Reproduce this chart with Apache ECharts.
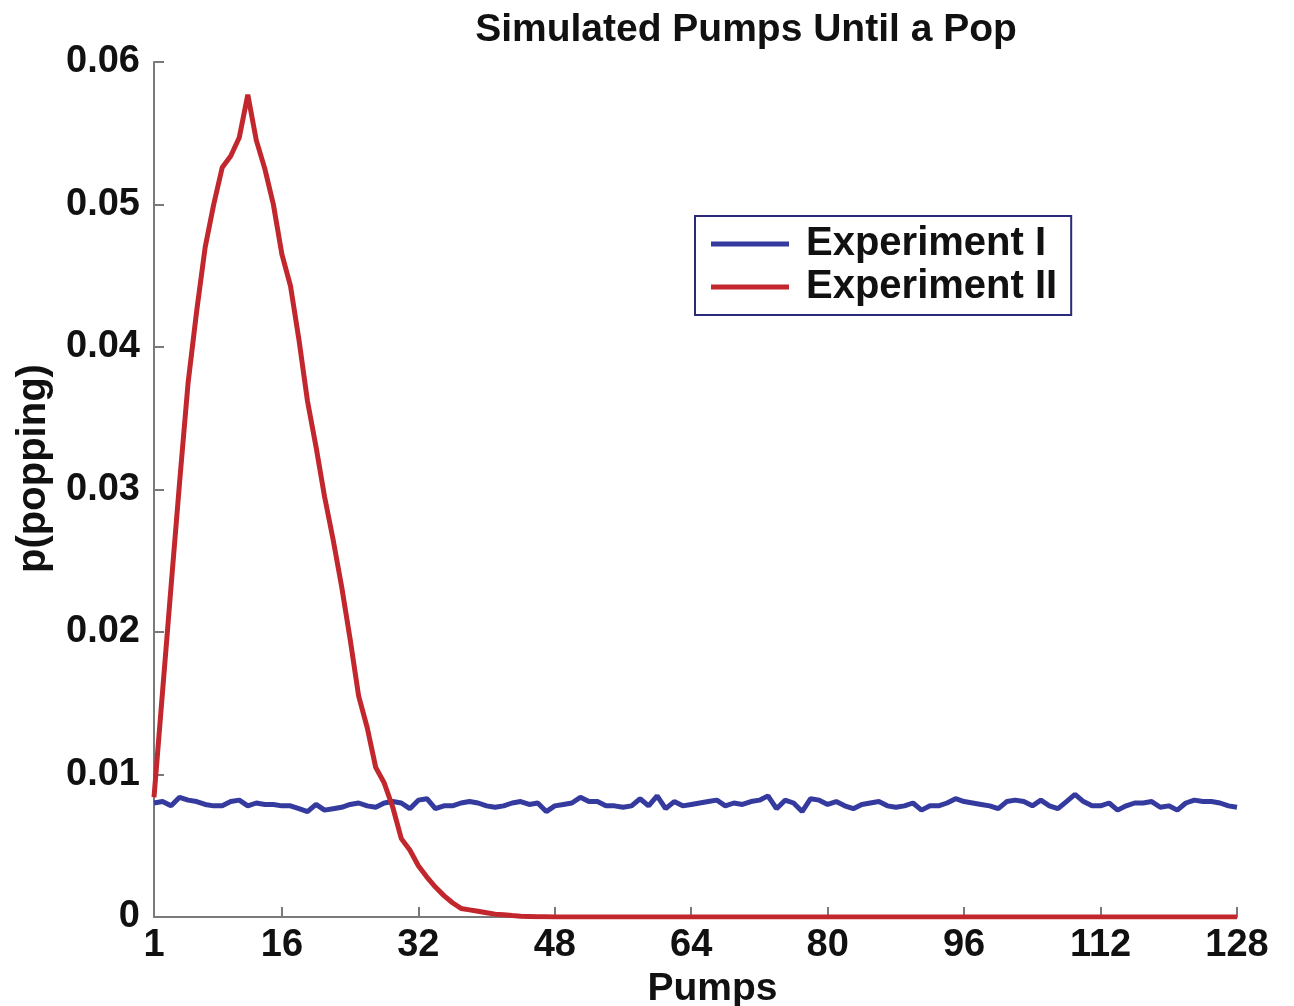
<!DOCTYPE html>
<html>
<head>
<meta charset="utf-8">
<script src="https://cdn.jsdelivr.net/npm/echarts@6/dist/echarts.min.js"></script>
<style>
  html, body { margin: 0; padding: 0; background: #fff; }
  #chart { width: 1294px; height: 1006px; }
</style>
</head>
<body>
<div id="chart"></div>
<script>
// pump index 1..128, ticks on x
const xTicks = [1, 16, 32, 48, 64, 80, 96, 112, 128];

// Experiment I - flat noisy line
const expOne = [
  0.0080, 0.0081, 0.0078, 0.0084, 0.0082, 0.0081, 0.0079, 0.0078, 0.0078, 0.0081, 0.0082, 0.0078, 0.0080, 0.0079, 0.0079, 0.0078,
  0.0078, 0.0076, 0.0074, 0.0079, 0.0075, 0.0076, 0.0077, 0.0079, 0.0080, 0.0078, 0.0077, 0.0080, 0.0081, 0.0080, 0.0076, 0.0082,
  0.0083, 0.0076, 0.0078, 0.0078, 0.0080, 0.0081, 0.0080, 0.0078, 0.0077, 0.0078, 0.0080, 0.0081, 0.0079, 0.0080, 0.0074, 0.0078,
  0.0079, 0.0080, 0.0084, 0.0081, 0.0081, 0.0078, 0.0078, 0.0077, 0.0078, 0.0083, 0.0078, 0.0085, 0.0076, 0.0081, 0.0078, 0.0079,
  0.0080, 0.0081, 0.0082, 0.0078, 0.0080, 0.0079, 0.0081, 0.0082, 0.0085, 0.0076, 0.0082, 0.0080, 0.0074, 0.0083, 0.0082, 0.0079,
  0.0081, 0.0078, 0.0076, 0.0079, 0.0080, 0.0081, 0.0078, 0.0077, 0.0078, 0.0080, 0.0075, 0.0078, 0.0078, 0.0080, 0.0083, 0.0081,
  0.0080, 0.0079, 0.0078, 0.0076, 0.0081, 0.0082, 0.0081, 0.0078, 0.0082, 0.0078, 0.0076, 0.0081, 0.0086, 0.0081, 0.0078, 0.0078,
  0.0080, 0.0075, 0.0078, 0.0080, 0.0080, 0.0081, 0.0077, 0.0078, 0.0075, 0.0080, 0.0082, 0.0081, 0.0081, 0.0080, 0.0078, 0.0077
];

// Experiment II - early peak
const expTwo = [
  0.0084, 0.0158, 0.0232, 0.0305, 0.0375, 0.0425, 0.0470, 0.0500, 0.0526, 0.0534, 0.0547, 0.0577, 0.0545, 0.0525, 0.0500, 0.0465,
  0.0443, 0.0405, 0.0362, 0.0330, 0.0295, 0.0265, 0.0232, 0.0195, 0.0155, 0.0133, 0.0105, 0.0094, 0.0077, 0.0055, 0.0047, 0.0036,
  0.0028, 0.0021, 0.0015, 0.0010, 0.0006, 0.0005, 0.0004, 0.0003, 0.0002, 0.00015, 0.0001, 0.00006, 0.00004, 0.00002, 0.00001, 0,
  0, 0, 0, 0, 0, 0, 0, 0, 0, 0, 0, 0, 0, 0, 0, 0,
  0, 0, 0, 0, 0, 0, 0, 0, 0, 0, 0, 0, 0, 0, 0, 0,
  0, 0, 0, 0, 0, 0, 0, 0, 0, 0, 0, 0, 0, 0, 0, 0,
  0, 0, 0, 0, 0, 0, 0, 0, 0, 0, 0, 0, 0, 0, 0, 0,
  0, 0, 0, 0, 0, 0, 0, 0, 0, 0, 0, 0, 0, 0, 0, 0
];

const FONT = "'Liberation Sans', Arial, sans-serif";
const axisGray = '#7a7a7a';

const chart = echarts.init(document.getElementById('chart'));

chart.setOption({
  animation: false,
  title: {
    text: 'Simulated Pumps Until a Pop',
    left: 741,
    top: 6,
    textAlign: 'center',
    textStyle: { fontFamily: FONT, fontWeight: 'bold', fontSize: 39, color: '#111' }
  },
  legend: {
    orient: 'vertical',
    left: 695,
    top: 216,
    padding: [8, 14, 8, 16],
    itemGap: 3,
    itemWidth: 78,
    itemHeight: 5,
    icon: 'rect',
    borderColor: '#2b2a7a',
    borderWidth: 2,
    backgroundColor: '#fff',
    textStyle: { fontFamily: FONT, fontWeight: 'bold', fontSize: 40, color: '#111', padding: [0, 0, 0, 12] },
    data: ['Experiment I', 'Experiment II']
  },
  grid: { left: 154, right: 57, top: 62, bottom: 89, outerBoundsMode: 'none' },
  xAxis: {
    type: 'value',
    min: 1,
    max: 128,
    name: 'Pumps',
    nameLocation: 'middle',
    nameGap: 48,
    nameTextStyle: { fontFamily: FONT, fontWeight: 'bold', fontSize: 39, color: '#111', verticalAlign: 'top', padding: [0, 0, 0, 34] },
    axisLine: { lineStyle: { color: axisGray, width: 2 } },
    axisTick: { inside: true, length: 10, customValues: xTicks, lineStyle: { color: axisGray, width: 2 } },
    axisLabel: { customValues: xTicks, margin: 10, fontFamily: FONT, fontWeight: 'bold', fontSize: 38, color: '#111' },
    splitLine: { show: false }
  },
  yAxis: {
    type: 'value',
    min: 0,
    max: 0.06,
    interval: 0.01,
    name: 'p(popping)',
    nameLocation: 'middle',
    nameGap: 100,
    nameRotate: 90,
    nameTextStyle: { fontFamily: FONT, fontWeight: 'bold', fontSize: 40, color: '#111', padding: [0, 0, 0, 42] },
    axisLine: { show: true, lineStyle: { color: axisGray, width: 2 } },
    axisTick: { show: true, inside: true, length: 10, lineStyle: { color: axisGray, width: 2 } },
    axisLabel: { margin: 14, fontFamily: FONT, fontWeight: 'bold', fontSize: 38, color: '#111' },
    splitLine: { show: false }
  },
  series: [
    {
      name: 'Experiment I',
      type: 'line',
      showSymbol: false,
      color: '#343a9e',
      lineStyle: { width: 5, color: '#343a9e' },
      data: expOne.map((v, i) => [i + 1, v])
    },
    {
      name: 'Experiment II',
      type: 'line',
      showSymbol: false,
      color: '#c1272d',
      lineStyle: { width: 5, color: '#c1272d' },
      data: expTwo.map((v, i) => [i + 1, v])
    }
  ]
});

window.addEventListener('resize', () => { chart.resize(); });
</script>
</body>
</html>
